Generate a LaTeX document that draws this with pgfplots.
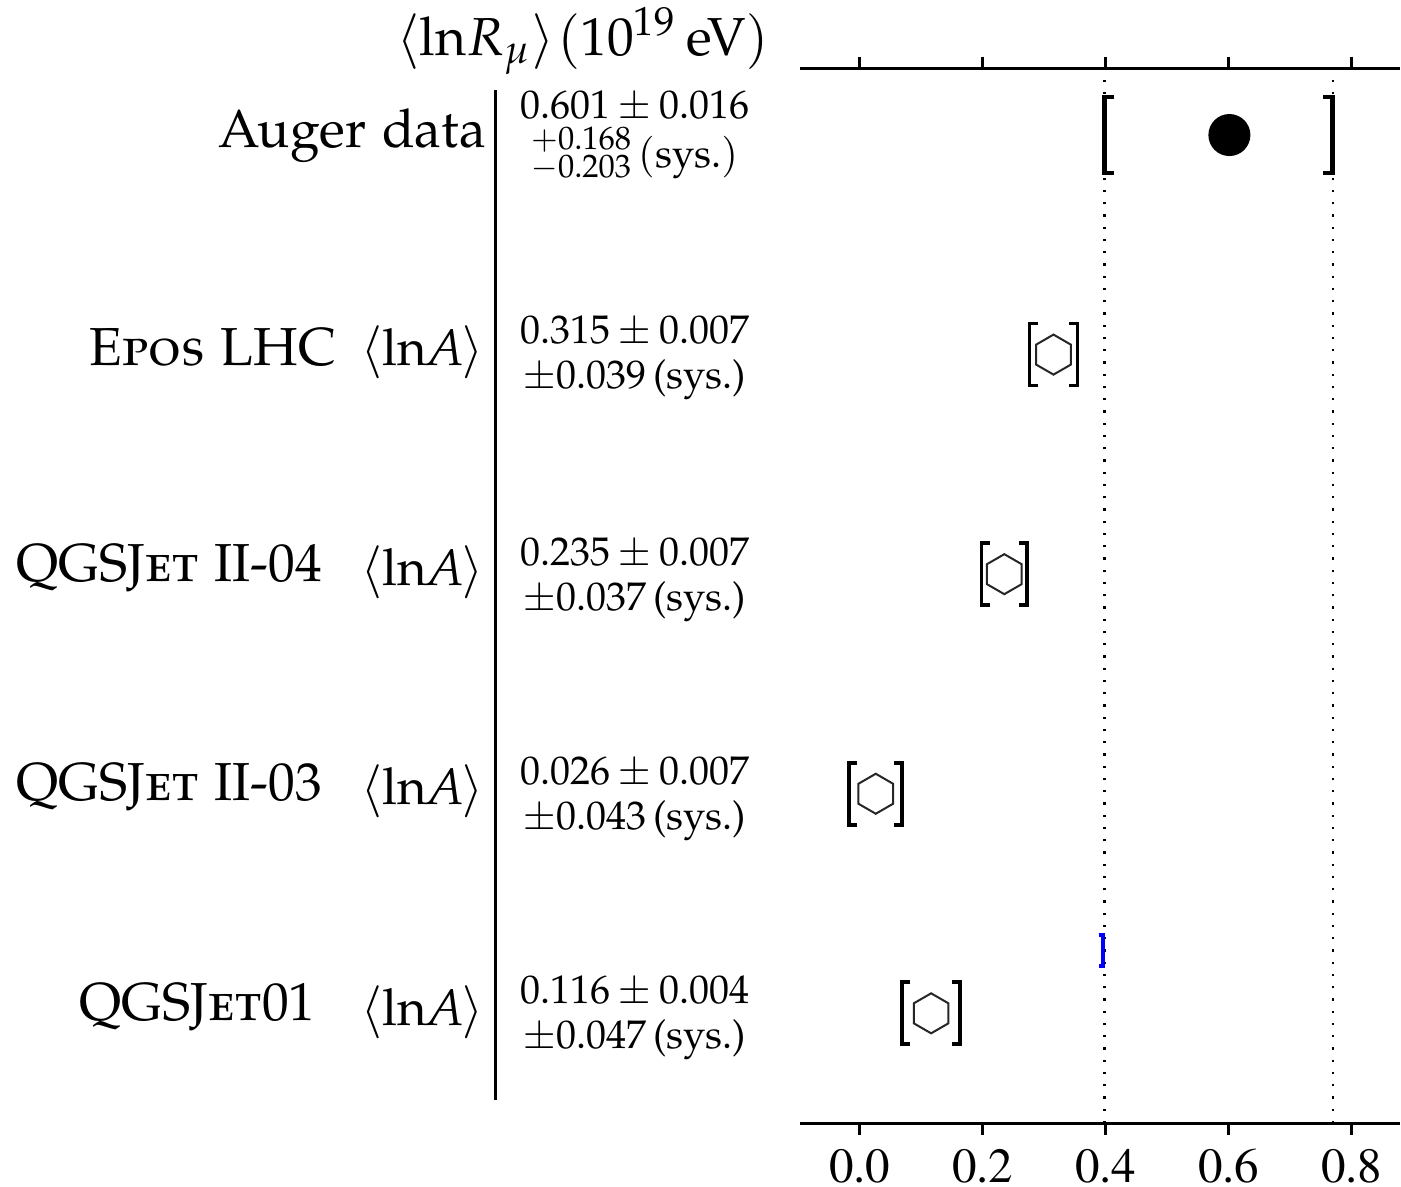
\documentclass[border=0pt]{standalone}
\usepackage[T1]{fontenc}
\usepackage[sc]{mathpazo}
\usepackage{pgfplots}
\usepackage{pgfplotstable}
\pgfplotsset{compat=1.18}
\pgfdeclareplotmark{hexa}{%
  \pgfpathmoveto{\pgfpointpolar{90}{\pgfplotmarksize}}%
  \pgfpathlineto{\pgfpointpolar{150}{\pgfplotmarksize}}%
  \pgfpathlineto{\pgfpointpolar{210}{\pgfplotmarksize}}%
  \pgfpathlineto{\pgfpointpolar{270}{\pgfplotmarksize}}%
  \pgfpathlineto{\pgfpointpolar{330}{\pgfplotmarksize}}%
  \pgfpathlineto{\pgfpointpolar{30}{\pgfplotmarksize}}%
  \pgfpathclose\pgfusepathqstroke}
\pgfdeclareplotmark{lbr}{%
  \pgfpathmoveto{\pgfpoint{0.26*\pgfplotmarksize}{\pgfplotmarksize}}%
  \pgfpathlineto{\pgfpoint{0pt}{\pgfplotmarksize}}%
  \pgfpathlineto{\pgfpoint{0pt}{-\pgfplotmarksize}}%
  \pgfpathlineto{\pgfpoint{0.26*\pgfplotmarksize}{-\pgfplotmarksize}}%
  \pgfusepathqstroke}
\pgfdeclareplotmark{rbr}{%
  \pgfpathmoveto{\pgfpoint{-0.26*\pgfplotmarksize}{\pgfplotmarksize}}%
  \pgfpathlineto{\pgfpoint{0pt}{\pgfplotmarksize}}%
  \pgfpathlineto{\pgfpoint{0pt}{-\pgfplotmarksize}}%
  \pgfpathlineto{\pgfpoint{-0.26*\pgfplotmarksize}{-\pgfplotmarksize}}%
  \pgfusepathqstroke}
\pgfplotstableread{
y x stat sys
3 0.315 0.007 0.039
2 0.235 0.007 0.037
1 0.026 0.007 0.043
0 0.116 0.004 0.047
}\models
\newcommand{\bigf}{\fontsize{10.7}{13}\selectfont}
\newcommand{\lnf}{\fontsize{10.2}{13}\selectfont}
\newcommand{\smf}{\fontsize{8}{9}\selectfont}
\newcommand{\lnA}{$\langle\mathrm{ln}\mkern-1mu A\mkern-1mu\rangle$}
\newcommand{\stk}{\raise0.7pt\hbox{$\vcenter{\offinterlineskip
  \hbox{\fontsize{6.5}{7}\selectfont$+0.168$}\kern0.5pt
  \hbox{\fontsize{6.5}{7}\selectfont$-0.203$}}$}}
\begin{document}
\begin{tikzpicture}
\begin{axis}[
  scale only axis, width=120pt, height=211pt,
  xmin=-0.0976, xmax=0.878, ymin=-0.5, ymax=4.305,
  axis x line=box, axis y line=none, ytick=\empty,
  xtick={0,0.2,0.4,0.6,0.8},
  xtick pos=both, xticklabel pos=lower,
  tick align=outside, major tick length=2.3pt,
  tick style={line width=0.6pt, black},
  axis line style={line width=0.6pt},
  clip=false,
  xticklabel style={font=\fontfamily{ptm}\fontsize{9.8}{12}\selectfont, yshift=0.6pt},
  /pgf/number format/.cd, fixed, fixed zerofill, precision=1, assume math mode=true,
]
\addplot[dotted, line width=0.45pt] coordinates {(0.398,-0.5) (0.398,4.305)};
\addplot[dotted, line width=0.45pt] coordinates {(0.769,-0.5) (0.769,4.305)};
\addplot[only marks, mark=*, mark size=4pt, black] coordinates {(0.601,4)};
\addplot[only marks, mark=lbr, mark size=7.6pt, line width=0.9pt, black] coordinates {(0.398,4)};
\addplot[only marks, mark=rbr, mark size=7.6pt, line width=0.9pt, black] coordinates {(0.769,4)};
\addplot[only marks, mark=hexa, mark size=4pt, line width=0.4pt, black!85] table[x=x, y=y]{\models};
\addplot[only marks, mark=lbr, mark size=6.2pt, line width=0.75pt, black] table[x expr=\thisrow{x}-\thisrow{sys}, y=y]{\models};
\addplot[only marks, mark=rbr, mark size=6.2pt, line width=0.75pt, black] table[x expr=\thisrow{x}+\thisrow{sys}, y=y]{\models};
\addplot[only marks, mark=rbr, mark size=3.1pt, line width=0.8pt, blue] coordinates {(0.395,0.287)};
% texts
\node[anchor=base east, font=\bigf, inner sep=0pt] at (axis cs:-0.146,4.364) {$\langle\mathrm{ln}R_\mu\rangle\mkern1mu(10^{19}\,\mathrm{eV})$};
\node[anchor=base east, font=\bigf, inner sep=0pt] at (axis cs:-0.6065,3.945) {Auger data};
\draw[line width=0.6pt] (axis cs:-0.592,4.205) -- (axis cs:-0.592,-0.396);
\node[anchor=base, font=\smf, inner sep=0pt] at (axis cs:-0.366,4.077) {$0.601\pm0.016$};
\node[anchor=base, font=\smf, inner sep=0pt] at (axis cs:-0.366,3.854) {$\stk\,(\mathrm{sys.})$};
\node[anchor=base east, font=\bigf, inner sep=0pt] at (axis cs:-0.850,2.952) {\textsc{Epos} LHC};
\node[anchor=base east, font=\bigf, inner sep=0pt] at (axis cs:-0.873,1.968) {QGSJ\textsc{et} II-04};
\node[anchor=base east, font=\bigf, inner sep=0pt] at (axis cs:-0.873,0.970) {QGSJ\textsc{et} II-03};
\node[anchor=base east, font=\bigf, inner sep=0pt] at (axis cs:-0.883,-0.032) {QGSJ\textsc{et}01};
\node[anchor=base east, font=\lnf, inner sep=0pt] at (axis cs:-0.609,2.952) {\lnA};
\node[anchor=base east, font=\lnf, inner sep=0pt] at (axis cs:-0.609,1.950) {\lnA};
\node[anchor=base east, font=\lnf, inner sep=0pt] at (axis cs:-0.609,0.950) {\lnA};
\node[anchor=base east, font=\lnf, inner sep=0pt] at (axis cs:-0.609,-0.055) {\lnA};
\node[anchor=base, font=\smf, inner sep=0pt] at (axis cs:-0.366,3.050) {$0.315\pm0.007$};
\node[anchor=base, font=\smf, inner sep=0pt] at (axis cs:-0.366,2.845) {$\pm0.039\,$(sys.)};
\node[anchor=base, font=\smf, inner sep=0pt] at (axis cs:-0.366,2.040) {$0.235\pm0.007$};
\node[anchor=base, font=\smf, inner sep=0pt] at (axis cs:-0.366,1.835) {$\pm0.037\,$(sys.)};
\node[anchor=base, font=\smf, inner sep=0pt] at (axis cs:-0.366,1.040) {$0.026\pm0.007$};
\node[anchor=base, font=\smf, inner sep=0pt] at (axis cs:-0.366,0.835) {$\pm0.043\,$(sys.)};
\node[anchor=base, font=\smf, inner sep=0pt] at (axis cs:-0.366,0.045) {$0.116\pm0.004$};
\node[anchor=base, font=\smf, inner sep=0pt] at (axis cs:-0.366,-0.160) {$\pm0.047\,$(sys.)};
\coordinate (bl) at (axis cs:-1.398,-0.788);
\coordinate (tr) at (axis cs:0.88,4.615);
\end{axis}
\pgfresetboundingbox
\path (bl) rectangle (tr);
\end{tikzpicture}
\end{document}
